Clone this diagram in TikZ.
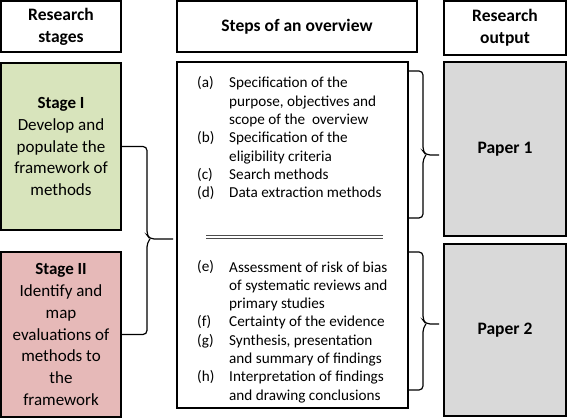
\documentclass[tikz,border=0pt]{standalone}
\usepackage{fontspec}
\setmainfont{Carlito}
\begin{document}
\begin{tikzpicture}[x=1pt,y=-1pt,
  box/.style={draw=black,line width=1.3pt,inner sep=0pt,align=center},
  hdr/.style={box,font=\fontsize{17.5}{22}\selectfont\bfseries},
  stg/.style={box,font=\fontsize{17}{21.7}\selectfont},
  itm/.style={anchor=base west,inner sep=0pt,align=left,font=\fontsize{15.2}{18.3}\selectfont},
  brc/.style={draw=black,line width=1.2pt,rounded corners=4pt}]
\useasboundingbox (0,0) rectangle (567,419);
% left column
\node[hdr,minimum width=120pt,minimum height=51pt] (h1) at (61,26.5) {Research\\stages};
\node[stg,fill={rgb,255:red,216;green,228;blue,188},minimum width=120pt,minimum height=167pt] (s1) at (61,146.5) {\textbf{Stage I}\\Develop and\\populate the\\framework of\\methods};
\node[stg,fill={rgb,255:red,230;green,185;blue,184},minimum width=120pt,minimum height=165pt] (s2) at (61,334.5) {\textbf{Stage II}\\Identify and\\map\\evaluations of\\methods to\\the\\framework};
% middle column
\node[hdr,minimum width=240pt,minimum height=51pt] (h2) at (297,26.5) {Steps of an overview};
\node[box,minimum width=231pt,minimum height=346pt] (m) at (292.5,235) {};
% right column
\node[hdr,minimum width=122pt,minimum height=54pt] (h3) at (505,28) {Research\\output};
\node[hdr,fill={rgb,255:red,217;green,217;blue,217},minimum width=122pt,minimum height=174pt] (p1) at (505,149) {Paper 1};
\node[hdr,fill={rgb,255:red,217;green,217;blue,217},minimum width=122pt,minimum height=172pt] (p2) at (505,330) {Paper 2};
% items (each text node is placed at the baseline of its last line)
\node[itm] (la) at (197,88) {(a)};
\node[itm] (ta) at (229,124.6) {Specification of the\\purpose, objectives and\\scope of the\ \ overview};
\node[itm] (lb) at (197,142.9) {(b)};
\node[itm] (tb) at (229,161.2) {Specification of the\\eligibility criteria};
\node[itm] (lc) at (197,179.5) {(c)};
\node[itm] (tc) at (229,179.5) {Search methods};
\node[itm] (ld) at (197,197.8) {(d)};
\node[itm] (td) at (229,197.8) {Data extraction methods};
\node[itm] (le) at (197,272) {(e)};
\node[itm] (te) at (229,308.6) {Assessment of risk of bias\\of systematic reviews and\\primary studies};
\node[itm] (lf) at (197,326.9) {(f)};
\node[itm] (tf) at (229,326.9) {Certainty of the evidence};
\node[itm] (lg) at (197,345.2) {(g)};
\node[itm] (tg) at (229,363.5) {Synthesis, presentation\\and summary of findings};
\node[itm] (lh) at (197,381.8) {(h)};
\node[itm] (th) at (229,400.1) {Interpretation of findings\\and drawing conclusions};
% double separator
\coordinate (d1a) at (206,235); \coordinate (d1b) at (383,235);
\coordinate (d2a) at (206,238.5); \coordinate (d2b) at (383,238.5);
\draw[gray!60!black,line width=0.8pt] (d1a) -- (d1b);
\draw[gray!60!black,line width=0.8pt] (d2a) -- (d2b);
% left brace
\coordinate (lt) at (173,239);
\draw[brc] (s1.east) -- (147,146.5) -- (147,235) -- (150,239) -- (lt);
\draw[brc] (s2.east) -- (147,334.5) -- (147,243) -- (150,239);
% right braces
\coordinate (r1a) at (m.east |- 0,71);
\coordinate (r1b) at (m.east |- 0,218);
\coordinate (r1t) at (439,155);
\draw[brc] (r1a) -- (423,71) -- (423,151) -- (426,155) -- (r1t);
\draw[brc] (r1b) -- (423,218) -- (423,159) -- (426,155);
\coordinate (r2a) at (m.east |- 0,252);
\coordinate (r2b) at (m.east |- 0,390);
\coordinate (r2t) at (439,324);
\draw[brc] (r2a) -- (423,252) -- (423,320) -- (426,324) -- (r2t);
\draw[brc] (r2b) -- (423,390) -- (423,328) -- (426,324);
\end{tikzpicture}
\end{document}
